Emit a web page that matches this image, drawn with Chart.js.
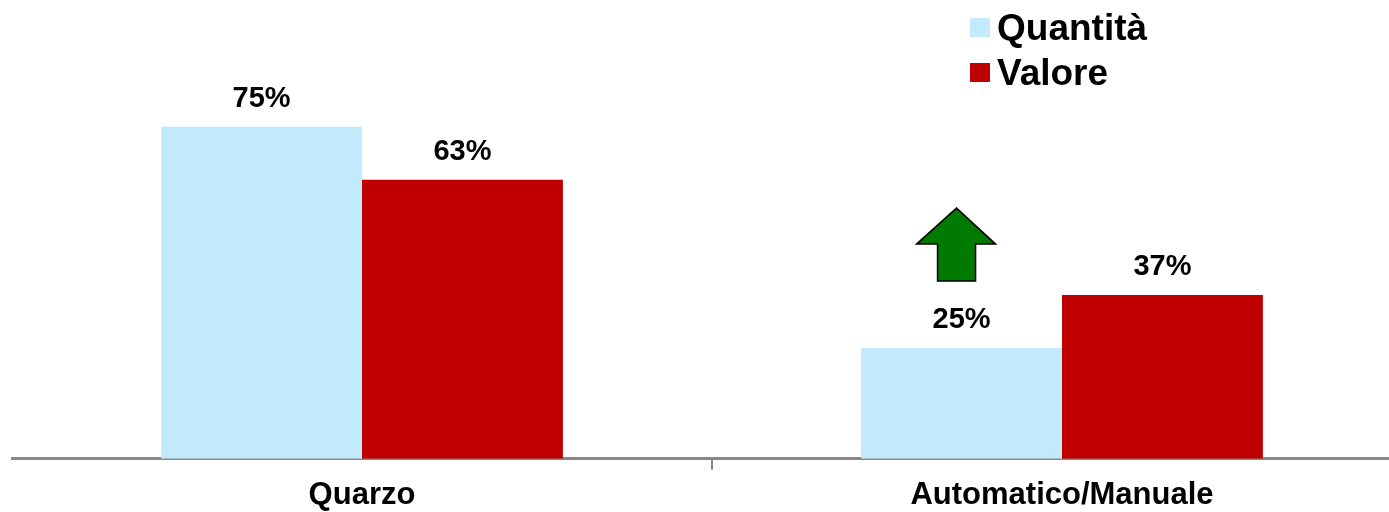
<!DOCTYPE html>
<html>
<head>
<meta charset="utf-8">
<script src="https://cdn.jsdelivr.net/npm/chart.js@4/dist/chart.umd.min.js"></script>
<style>
  html, body { margin: 0; padding: 0; background: #fff; overflow: hidden; }
  #wrap { position: relative; width: 1412px; height: 523px; }
  .leg { position: absolute; left: 970px; font: bold 37px "Liberation Sans", Arial, sans-serif; color: #000; white-space: nowrap; line-height: 42px; }
  .leg span { display: inline-block; width: 20px; height: 19px; margin-right: 7px; vertical-align: 3px; }
</style>
</head>
<body>
<div id="wrap">
  <canvas id="chart" width="1412" height="523"></canvas>
  <div id="legend"></div>
</div>
<script>
const categories = ["Quarzo", "Automatico/Manuale"];
const seriesNames = ["Quantità", "Valore"];
const quantita = [75, 25];
const valore = [63, 37];
const colors = ["#C2EAFD", "#C00000"];

// legenda in alto a destra
const legendTops = [7, 52];
seriesNames.forEach(function (name, i) {
  const d = document.createElement('div');
  d.className = 'leg';
  d.style.top = legendTops[i] + 'px';
  d.innerHTML = '<span style="background:' + colors[i] + '"></span>' + name;
  document.getElementById('legend').appendChild(d);
});

const labelFont = 'bold 29px "Liberation Sans", Arial, sans-serif';

const valueLabels = {
  id: 'valueLabels',
  afterDatasetsDraw(chart) {
    const ctx = chart.ctx;
    ctx.save();
    ctx.font = labelFont;
    ctx.fillStyle = '#000';
    ctx.textAlign = 'center';
    ctx.textBaseline = 'middle';
    chart.data.datasets.forEach(function (ds, di) {
      chart.getDatasetMeta(di).data.forEach(function (bar, i) {
        ctx.fillText(ds.data[i] + '%', bar.x, bar.y - 28);
      });
    });
    // freccia verde sopra Automatico/Manuale - Quantità
    const b = chart.getDatasetMeta(0).data[1];
    const cx = b.x - 5, top = b.y;
    ctx.beginPath();
    ctx.moveTo(cx, top - 140);
    ctx.lineTo(cx + 39, top - 104);
    ctx.lineTo(cx + 19, top - 104);
    ctx.lineTo(cx + 19, top - 67);
    ctx.lineTo(cx - 19, top - 67);
    ctx.lineTo(cx - 19, top - 104);
    ctx.lineTo(cx - 40, top - 104);
    ctx.closePath();
    ctx.fillStyle = '#007A00';
    ctx.fill();
    ctx.lineWidth = 1.5;
    ctx.strokeStyle = '#000';
    ctx.stroke();
    ctx.restore();
  }
};

new Chart(document.getElementById('chart'), {
  type: 'bar',
  data: {
    labels: categories,
    datasets: [
      { label: seriesNames[0], data: quantita, backgroundColor: colors[0] },
      { label: seriesNames[1], data: valore, backgroundColor: colors[1] }
    ]
  },
  options: {
    responsive: false,
    animation: false,
    layout: { padding: { top: 16, left: 12, right: 0, bottom: 2 } },
    datasets: { bar: { categoryPercentage: 0.574, barPercentage: 1 } },
    plugins: { legend: { display: false }, tooltip: { enabled: false } },
    scales: {
      x: {
        grid: {
          offset: true,
          drawOnChartArea: false,
          drawTicks: true,
          tickLength: 11,
          lineWidth: 2,
          color: function (c) { return c.index === 1 ? '#888' : 'transparent'; }
        },
        border: { color: '#888', width: 3 },
        ticks: {
          color: '#000',
          padding: 7,
          font: { family: '"Liberation Sans", Arial, sans-serif', size: 31, weight: 'bold' }
        }
      },
      y: { display: false, min: 0, max: 100 }
    }
  },
  plugins: [valueLabels]
});
</script>
</body>
</html>
